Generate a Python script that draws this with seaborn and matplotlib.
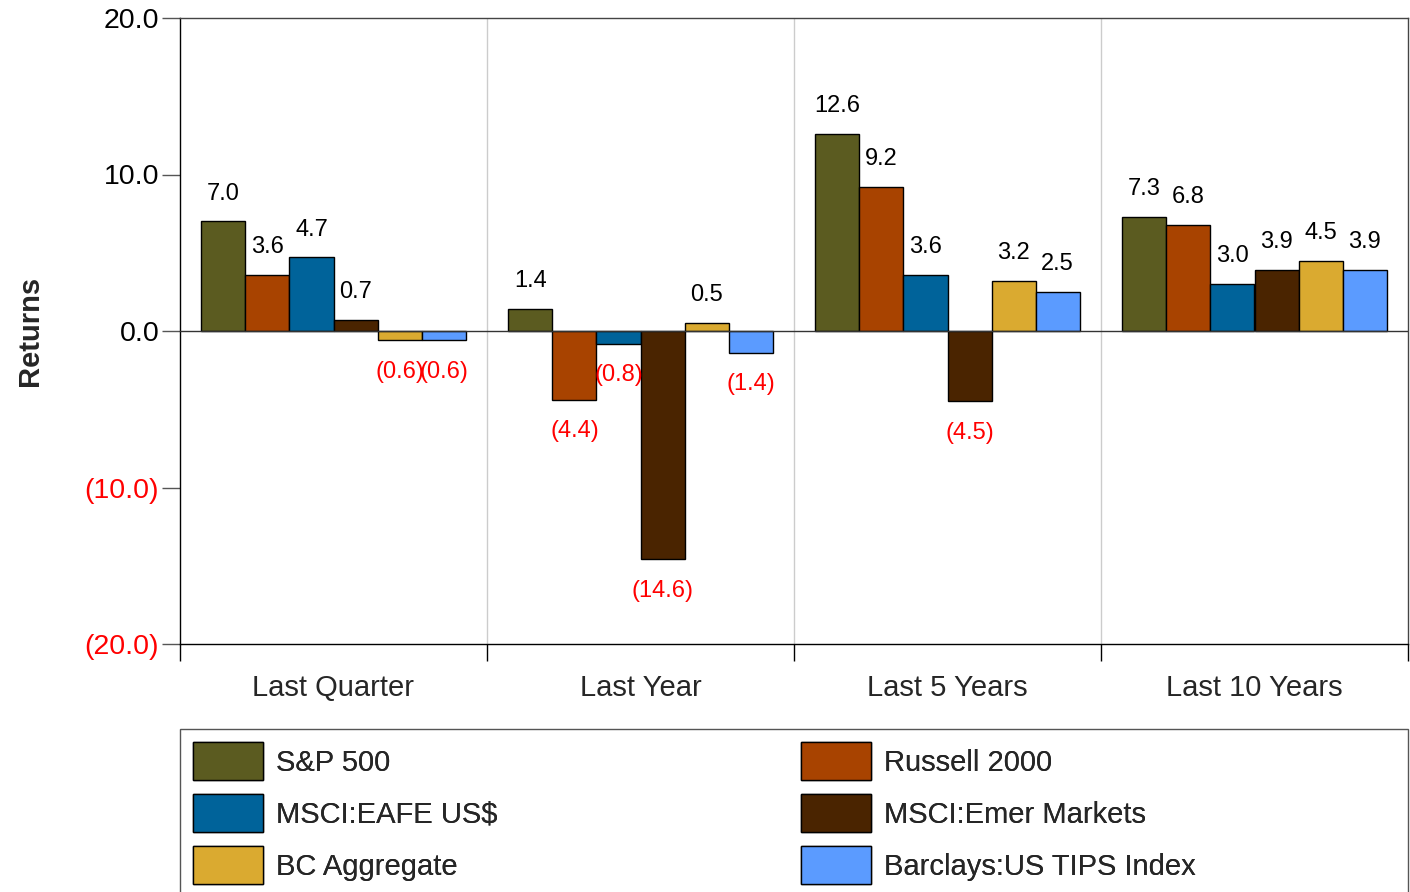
import matplotlib
matplotlib.use("Agg")
import matplotlib.pyplot as plt
import seaborn as sns
import pandas as pd
from matplotlib.patches import Patch, Rectangle

periods = ["Last Quarter", "Last Year", "Last 5 Years", "Last 10 Years"]
series = ["S&P 500", "Russell 2000", "MSCI:EAFE US$", "MSCI:Emer Markets",
          "BC Aggregate", "Barclays:US TIPS Index"]
sp500 = [7.0, 1.4, 12.6, 7.3]
russell = [3.6, -4.4, 9.2, 6.8]
eafe = [4.7, -0.8, 3.6, 3.0]
emer = [0.7, -14.6, -4.5, 3.9]
bcagg = [-0.6, 0.5, 3.2, 4.5]
tips = [-0.6, -1.4, 2.5, 3.9]
colors = ["#5B5B20", "#A84300", "#00639A", "#4A2400", "#DAAA30", "#5B9BFF"]
yticks = [-20, -10, 0, 10, 20]

values = [sp500, russell, eafe, emer, bcagg, tips]
rows = []
for s, vals in zip(series, values):
    for p, v in zip(periods, vals):
        rows.append({"Period": p, "Series": s, "Return": v})
df = pd.DataFrame(rows)

sns.set_style("white")
plt.rcParams["font.family"] = ["Liberation Sans", "DejaVu Sans"]

W, H = 1410, 892
fig = plt.figure(figsize=(W / 100, H / 100), dpi=100)
ax = fig.add_axes([180 / W, 1 - 644 / H, (1408 - 180) / W, (644 - 18) / H])

sns.barplot(data=df, x="Period", y="Return", hue="Series", order=periods,
            hue_order=series, palette=colors, width=0.86, gap=0,
            edgecolor="black", linewidth=1, saturation=1, ax=ax, legend=False,
            errorbar=None)

ax.set_xlim(-0.5, 3.5)
ax.set_ylim(-20, 20)

# value labels
for cont in ax.containers:
    for bar in cont:
        v = bar.get_height()
        xc = bar.get_x() + bar.get_width() / 2
        if v >= 0:
            ax.annotate(f"{v:.1f}", (xc, v), xytext=(0, 20), textcoords="offset points",
                        ha="center", va="center", fontsize=17, color="black")
        else:
            ax.annotate(f"({abs(v):.1f})", (xc, v), xytext=(0, -22.5), textcoords="offset points",
                        ha="center", va="center", fontsize=17, color="#FF0000")

# group separators and zero line
for xs in [0.5, 1.5, 2.5]:
    ax.axvline(xs, color="#CCCCCC", linewidth=1, zorder=0)
ax.axhline(0, color="#333333", linewidth=1, zorder=3)

# y ticks
ax.set_yticks(yticks)
ax.set_yticklabels([f"{t:.1f}" if t >= 0 else f"({abs(t):.1f})" for t in yticks])
for lab, t in zip(ax.get_yticklabels(), yticks):
    lab.set_color("black" if t >= 0 else "#FF0000")
ax.tick_params(axis="y", direction="out", length=13, width=1, color="#555555",
               labelsize=20.5, pad=2, left=True)

# x ticks: separators as major ticks, labels as minor
ax.set_xticks([-0.5, 0.5, 1.5, 2.5, 3.5])
ax.set_xticklabels([])
ax.set_xticks([0, 1, 2, 3], minor=True)
ax.set_xticklabels(periods, minor=True)
ax.tick_params(axis="x", which="major", direction="out", length=12, width=1,
               color="black", bottom=True)
ax.tick_params(axis="x", which="minor", length=0, labelsize=21, pad=21.5)
ax.set_xlabel("")
ax.set_ylabel("Returns", fontsize=21, fontweight="bold")
ax.yaxis.set_label_coords(-0.111, 0.5)

for side in ["left", "bottom"]:
    ax.spines[side].set_color("black")
    ax.spines[side].set_linewidth(1)
for side in ["top", "right"]:
    ax.spines[side].set_color("#444444")
    ax.spines[side].set_linewidth(1)

# legend frame
fig.add_artist(Rectangle((180 / W, -0.05), (1408 - 180) / W, 0.05 + 1 - 729 / H,
                         transform=fig.transFigure, facecolor="white",
                         edgecolor="#555555", linewidth=1))

# legend: two columns, row-major order
handles = [Patch(facecolor=c, edgecolor="black", linewidth=1) for c in colors]
leg_kw = dict(loc="upper left", fontsize=21, frameon=False, handlelength=2.4,
              handleheight=1.63, handletextpad=0.446, labelspacing=0.48,
              borderpad=0.45, borderaxespad=0)
for idx, x0 in [([0, 2, 4], 180), ([1, 3, 5], 788)]:
    lg = fig.legend([handles[i] for i in idx], [series[i] for i in idx],
                    bbox_to_anchor=(x0 / W, 1 - 729 / H), **leg_kw)
    fig.add_artist(lg)

fig.savefig("out.png", dpi=100)
